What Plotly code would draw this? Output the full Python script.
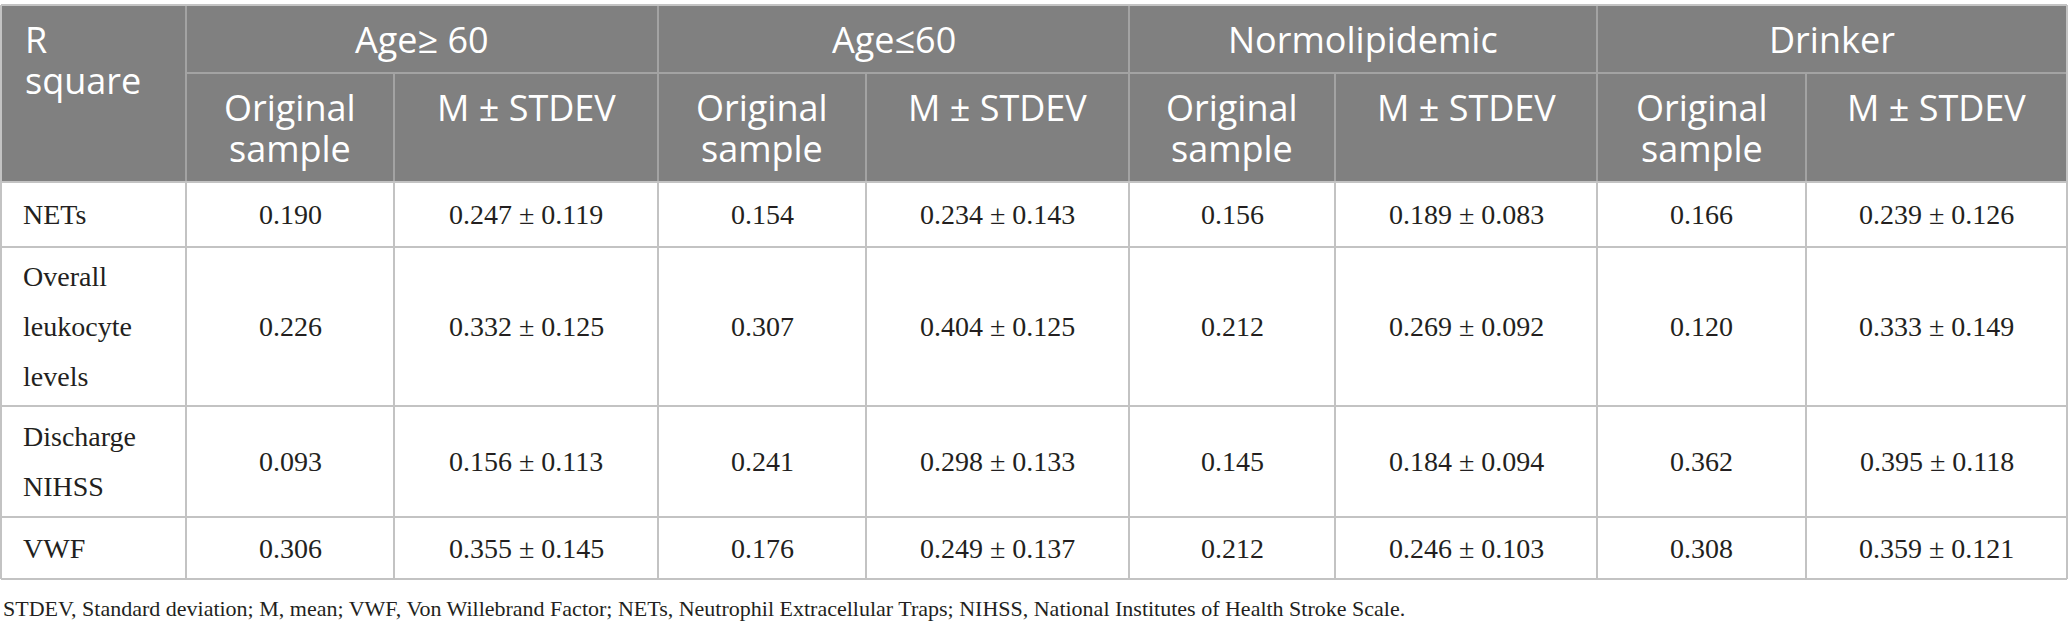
import plotly.graph_objects as go

# table content
groups = ["Age≥ 60", "Age≤60", "Normolipidemic", "Drinker"]
sub_headers = [["Original", "sample"], ["M ± STDEV"]]
corner_label = ["R", "square"]
row_labels = [["NETs"], ["Overall", "leukocyte", "levels"], ["Discharge", "NIHSS"], ["VWF"]]

nets_orig = [0.190, 0.154, 0.156, 0.166]
nets_mean = [0.247, 0.234, 0.189, 0.239]
nets_sd = [0.119, 0.143, 0.083, 0.126]

leuko_orig = [0.226, 0.307, 0.212, 0.120]
leuko_mean = [0.332, 0.404, 0.269, 0.333]
leuko_sd = [0.125, 0.125, 0.092, 0.149]

nihss_orig = [0.093, 0.241, 0.145, 0.362]
nihss_mean = [0.156, 0.298, 0.184, 0.395]
nihss_sd = [0.113, 0.133, 0.094, 0.118]

vwf_orig = [0.306, 0.176, 0.212, 0.308]
vwf_mean = [0.355, 0.249, 0.246, 0.359]
vwf_sd = [0.145, 0.137, 0.103, 0.121]

footnote = ("STDEV, Standard deviation; M, mean; VWF, Von Willebrand Factor; "
            "NETs, Neutrophil Extracellular Traps; NIHSS, National Institutes of Health Stroke Scale.")

# geometry (pixels)
W, H = 2068, 631
col_edges = [1, 186, 394, 658, 866, 1129, 1335, 1597, 1806, 2067]
row_edges = [5, 73, 182, 247, 406, 517, 579]
line_gap = 50
head_gap = 41

HEAD_BG = "#808080"
HEAD_LINE = "#a3a3a3"
BODY_LINE = "#c3c3c3"
INK = "#231f20"
SANS = "Open Sans"
SERIF = "Liberation Serif"
HEAD_SIZE = 36
BODY_SIZE = 28

fig = go.Figure()
shapes = []
annotations = []


def hline(y, x0, x1, color):
    shapes.append(dict(type="line", xref="x", yref="y", x0=x0, x1=x1, y0=y, y1=y,
                       line=dict(color=color, width=2)))


def vline(x, y0, y1, color):
    shapes.append(dict(type="line", xref="x", yref="y", x0=x, x1=x, y0=y0, y1=y1,
                       line=dict(color=color, width=2)))


def text(x, y, s, font, size, color, xanchor="center"):
    annotations.append(dict(x=x, y=y, xref="x", yref="y", text=s, showarrow=False,
                            xanchor=xanchor, yanchor="middle",
                            font=dict(family=font, size=size, color=color)))


# header background
shapes.append(dict(type="rect", xref="x", yref="y", x0=col_edges[0], x1=col_edges[-1],
                   y0=row_edges[0], y1=row_edges[2], fillcolor=HEAD_BG, line=dict(width=0), layer="below"))

# header grid
hline(row_edges[1], col_edges[1], col_edges[-1], HEAD_LINE)
for i in range(1, 9, 2):
    vline(col_edges[i], row_edges[0], row_edges[2], HEAD_LINE)
for i in range(2, 9, 2):
    vline(col_edges[i], row_edges[1], row_edges[2], HEAD_LINE)

# body grid
for y in row_edges[2:]:
    hline(y, col_edges[0], col_edges[-1], BODY_LINE)
for x in col_edges:
    vline(x, row_edges[2], row_edges[-1], BODY_LINE)
hline(row_edges[0], col_edges[0], col_edges[-1], BODY_LINE)
vline(col_edges[0], row_edges[0], row_edges[2], BODY_LINE)
vline(col_edges[-1], row_edges[0], row_edges[2], BODY_LINE)

# header text
text(23, 39, corner_label[0], SANS, HEAD_SIZE, "white", "left")
text(23, 39 + head_gap, corner_label[1], SANS, HEAD_SIZE, "white", "left")
for g, name in enumerate(groups):
    x0, x1 = col_edges[1 + 2 * g], col_edges[3 + 2 * g]
    text((x0 + x1) / 2, 39, name, SANS, HEAD_SIZE, "white")
    for k, lines in enumerate(sub_headers):
        xc = (col_edges[1 + 2 * g + k] + col_edges[2 + 2 * g + k]) / 2
        for j, s in enumerate(lines):
            text(xc, 107 + j * head_gap, s, SANS, HEAD_SIZE, "white")

# body text
origs = [nets_orig, leuko_orig, nihss_orig, vwf_orig]
means = [nets_mean, leuko_mean, nihss_mean, vwf_mean]
sds = [nets_sd, leuko_sd, nihss_sd, vwf_sd]
for r in range(4):
    yc = (row_edges[2 + r] + row_edges[3 + r]) / 2
    lines = row_labels[r]
    top = yc - (len(lines) - 1) * line_gap / 2
    for j, s in enumerate(lines):
        text(21, top + j * line_gap, s, SERIF, BODY_SIZE, INK, "left")
    for g in range(4):
        xo = (col_edges[1 + 2 * g] + col_edges[2 + 2 * g]) / 2
        xm = (col_edges[2 + 2 * g] + col_edges[3 + 2 * g]) / 2
        text(xo, yc, f"{origs[r][g]:.3f}", SERIF, BODY_SIZE, INK)
        text(xm, yc, f"{means[r][g]:.3f} ± {sds[r][g]:.3f}", SERIF, BODY_SIZE, INK)

text(1, 608, footnote, SERIF, 22, INK, "left")

fig.update_layout(
    width=W, height=H,
    margin=dict(l=0, r=0, t=0, b=0),
    paper_bgcolor="white", plot_bgcolor="white",
    xaxis=dict(range=[0, W], visible=False, fixedrange=True),
    yaxis=dict(range=[H, 0], visible=False, fixedrange=True),
    shapes=shapes, annotations=annotations,
    showlegend=False,
)
# drop the browser's default 8px body margin so the figure fills the window
fig.write_html("out.html", config={"displayModeBar": False},
               post_script="document.body.style.margin = '0';")
